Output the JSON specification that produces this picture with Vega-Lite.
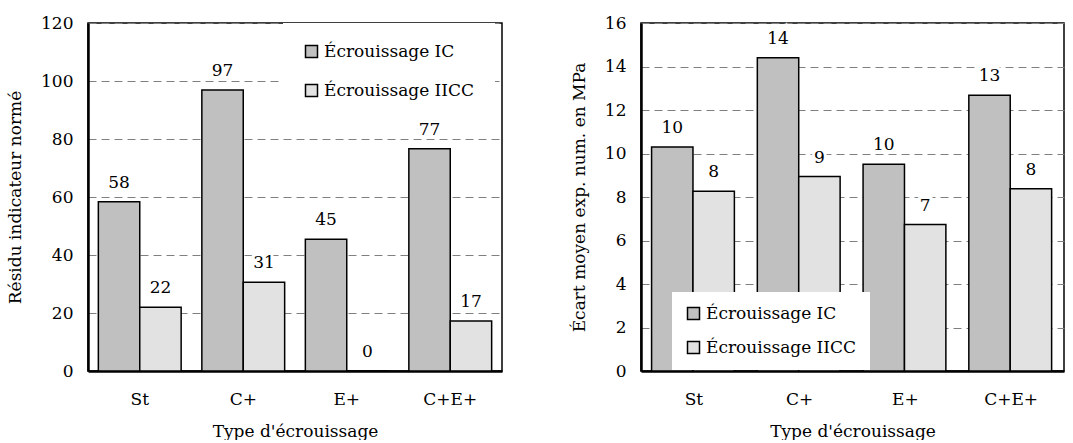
{
  "$schema": "https://vega.github.io/schema/vega-lite/v6.json",
  "background": "white",
  "padding": {"left": 5, "top": 13, "right": 0, "bottom": 0},
  "config": {
    "font": "DejaVu Serif",
    "view": {"stroke": "black", "strokeWidth": 1.5},
    "axis": {
      "labelFont": "DejaVu Serif", "labelFontSize": 17, "labelColor": "black",
      "titleFont": "DejaVu Serif", "titleFontSize": 17, "titleFontWeight": "normal", "titleColor": "black",
      "domainColor": "black", "domainWidth": 2.5, "ticks": false,
      "gridColor": "#808080", "gridDash": [8, 5], "gridWidth": 1
    },
    "legend": {
      "title": null, "fillColor": "white", "symbolType": "square", "symbolSize": 144,
      "symbolStrokeColor": "black", "symbolStrokeWidth": 1.5, "symbolOpacity": 1,
      "labelFont": "DejaVu Serif", "labelFontSize": 17, "labelColor": "black", "labelOffset": 4, "labelLimit": 400
    }
  },
  "datasets": {
    "left": [
      {"type": "St", "series": "Écrouissage IC", "value": 58.4},
      {"type": "St", "series": "Écrouissage IICC", "value": 22.0},
      {"type": "C+", "series": "Écrouissage IC", "value": 96.9},
      {"type": "C+", "series": "Écrouissage IICC", "value": 30.6},
      {"type": "E+", "series": "Écrouissage IC", "value": 45.4},
      {"type": "E+", "series": "Écrouissage IICC", "value": 0},
      {"type": "C+E+", "series": "Écrouissage IC", "value": 76.6},
      {"type": "C+E+", "series": "Écrouissage IICC", "value": 17.2}
    ],
    "right": [
      {"type": "St", "series": "Écrouissage IC", "value": 10.3},
      {"type": "St", "series": "Écrouissage IICC", "value": 8.27},
      {"type": "C+", "series": "Écrouissage IC", "value": 14.4},
      {"type": "C+", "series": "Écrouissage IICC", "value": 8.94},
      {"type": "E+", "series": "Écrouissage IC", "value": 9.51},
      {"type": "E+", "series": "Écrouissage IICC", "value": 6.73},
      {"type": "C+E+", "series": "Écrouissage IC", "value": 12.68},
      {"type": "C+E+", "series": "Écrouissage IICC", "value": 8.38}
    ]
  },
  "spacing": 66,
  "resolve": {"scale": {"color": "independent"}, "legend": {"color": "independent"}},
  "hconcat": [
    {
      "width": 414, "height": 348,
      "data": {"name": "left"},
      "encoding": {
        "x": {"field": "type", "type": "nominal", "sort": ["St", "C+", "E+", "C+E+"],
          "scale": {"paddingInner": 0.2, "paddingOuter": 0.1},
          "axis": {"title": "Type d'écrouissage", "labelAngle": 0, "labelPadding": 20, "titlePadding": 16, "grid": false}},
        "xOffset": {"field": "series", "type": "nominal", "sort": ["Écrouissage IC", "Écrouissage IICC"],
          "scale": {"paddingInner": 0, "paddingOuter": 0}},
        "y": {"field": "value", "type": "quantitative", "scale": {"domain": [0, 120], "nice": false},
          "axis": {"title": "Résidu indicateur normé", "values": [0, 20, 40, 60, 80, 100, 120], "labelPadding": 15, "titlePadding": 16, "grid": true}}
      },
      "layer": [
        {
          "mark": {"type": "bar", "stroke": "black", "strokeWidth": 1.5},
          "encoding": {
            "color": {"field": "series", "type": "nominal",
              "scale": {"domain": ["Écrouissage IC", "Écrouissage IICC"], "range": ["#c0c0c0", "#e2e2e2"]},
              "legend": {"orient": "none", "legendX": 195, "legendY": 0, "padding": 20, "rowPadding": 20}}
          }
        },
        {
          "mark": {"type": "text", "dy": -19, "baseline": "middle", "fill": "white", "stroke": "white", "strokeWidth": 6, "fontSize": 17},
          "encoding": {"text": {"field": "value", "type": "quantitative", "format": ".0f"}}
        },
        {
          "mark": {"type": "text", "dy": -19, "baseline": "middle", "fill": "black", "fontSize": 17},
          "encoding": {"text": {"field": "value", "type": "quantitative", "format": ".0f"}}
        }
      ]
    },
    {
      "width": 423, "height": 348,
      "data": {"name": "right"},
      "encoding": {
        "x": {"field": "type", "type": "nominal", "sort": ["St", "C+", "E+", "C+E+"],
          "scale": {"paddingInner": 0.2, "paddingOuter": 0.1},
          "axis": {"title": "Type d'écrouissage", "labelAngle": 0, "labelPadding": 20, "titlePadding": 16, "grid": false}},
        "xOffset": {"field": "series", "type": "nominal", "sort": ["Écrouissage IC", "Écrouissage IICC"],
          "scale": {"paddingInner": 0, "paddingOuter": 0}},
        "y": {"field": "value", "type": "quantitative", "scale": {"domain": [0, 16], "nice": false},
          "axis": {"title": "Écart moyen exp. num. en MPa", "values": [0, 2, 4, 6, 8, 10, 12, 14, 16], "labelPadding": 15, "titlePadding": 16, "grid": true}}
      },
      "layer": [
        {
          "mark": {"type": "bar", "stroke": "black", "strokeWidth": 1.5},
          "encoding": {
            "color": {"field": "series", "type": "nominal",
              "scale": {"domain": ["Écrouissage IC", "Écrouissage IICC"], "range": ["#c0c0c0", "#e2e2e2"]},
              "legend": {"orient": "none", "legendX": 31, "legendY": 269, "padding": 13, "rowPadding": 15}}
          }
        },
        {
          "mark": {"type": "text", "dy": -19, "baseline": "middle", "fill": "white", "stroke": "white", "strokeWidth": 6, "fontSize": 17},
          "encoding": {"text": {"field": "value", "type": "quantitative", "format": ".0f"}}
        },
        {
          "mark": {"type": "text", "dy": -19, "baseline": "middle", "fill": "black", "fontSize": 17},
          "encoding": {"text": {"field": "value", "type": "quantitative", "format": ".0f"}}
        }
      ]
    }
  ]
}
